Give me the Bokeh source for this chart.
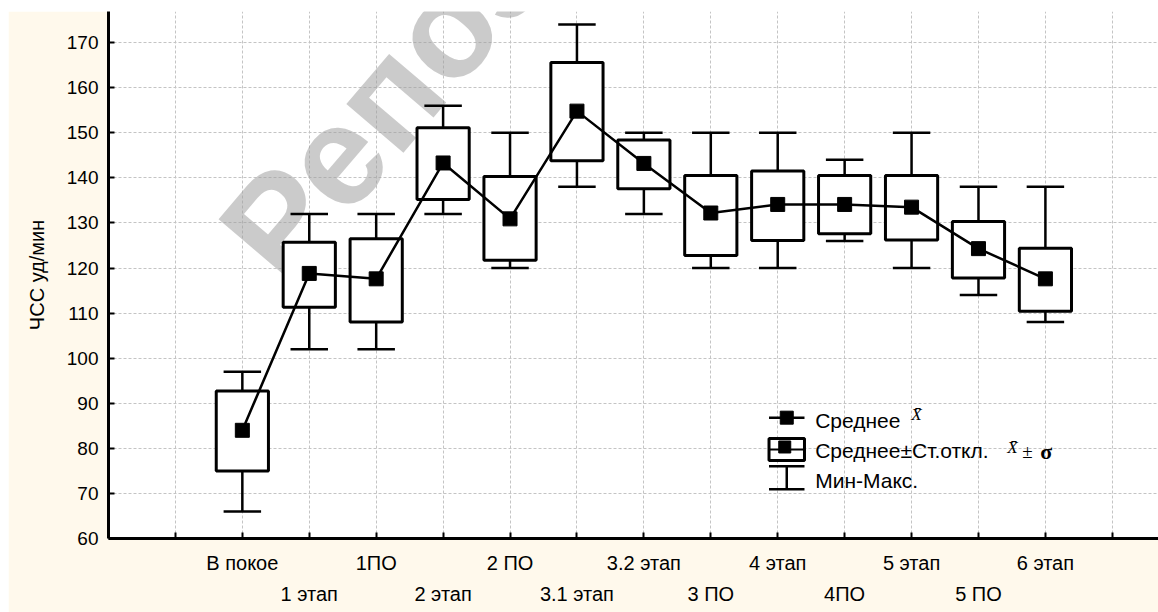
from bokeh.plotting import figure
from bokeh.models import Range1d, FixedTicker, LinearAxis, ColumnDataSource
from bokeh.core.properties import value
from bokeh.embed import file_html
from bokeh.resources import INLINE

# ---------------- data ----------------
categories = ["В покое", "1 этап", "1ПО", "2 этап", "2 ПО", "3.1 этап", "3.2 этап",
              "3 ПО", "4 этап", "4ПО", "5 этап", "5 ПО", "6 этап"]
means    = [84.0, 118.8, 117.6, 143.3, 130.9, 154.8, 143.2, 132.2, 134.1, 134.1, 133.5, 124.3, 117.6]
sd_low   = [75.0, 111.3, 108.0, 135.2, 121.7, 143.8, 137.6, 122.8, 126.1, 127.6, 126.2, 117.8, 110.4]
sd_high  = [92.7, 125.7, 126.5, 151.1, 140.3, 165.6, 148.4, 140.5, 141.5, 140.5, 140.5, 130.3, 124.4]
min_vals = [66, 102, 102, 132, 120, 138, 132, 120, 120, 126, 120, 114, 108]
max_vals = [97, 132, 132, 156, 150, 174, 150, 150, 150, 144, 150, 138, 138]
y_ticks = list(range(60, 171, 10))
y_label = "ЧСС уд/мин"
legend_labels = ["Среднее", "Среднее±Ст.откл.", "Мин-Макс."]
watermark = "Репозиторий"

FONT_NAME = "Liberation Sans"
FONT = value(FONT_NAME)
SERIF = value("Liberation Serif")

pos = list(range(1, len(categories) + 1))
box_w = 0.78
cap_half = 0.28

p = figure(width=1150, height=601,
           x_range=Range1d(-1, 14.69), y_range=Range1d(60, 176.9),
           output_backend="svg", toolbar_location=None,
           min_border_left=100, min_border_right=0, min_border_top=0, min_border_bottom=74,
           background_fill_color="white", border_fill_color="#FFF9EC",
           outline_line_color=None)
p.margin = (11, 0, 0, 8)

# axes
ax = p.xaxis[0]
ax.ticker = FixedTicker(ticks=list(range(0, len(categories) + 2)))
ov1 = {i: "" for i in range(0, len(categories) + 2)}
for i, c in enumerate(categories):
    if (i + 1) % 2 == 1:
        ov1[i + 1] = c
ax.major_label_overrides = ov1
ax.axis_line_width = 3
ax.axis_line_color = "black"
ax.major_tick_in = 6
ax.major_tick_out = 0
ax.major_tick_line_width = 2
ax.minor_tick_line_color = None
ax.major_label_standoff = 13
ax.major_label_text_font = FONT_NAME
ax.major_label_text_font_size = "20px"
ax.major_label_text_color = "black"

ov2 = {}
for i, c in enumerate(categories):
    if (i + 1) % 2 == 0:
        ov2[i + 1] = c
ax2 = LinearAxis(ticker=FixedTicker(ticks=sorted(ov2.keys())),
                 major_label_overrides=ov2,
                 axis_line_color=None, major_tick_line_color=None,
                 minor_tick_line_color=None, major_label_standoff=6,
                 major_tick_in=0, major_tick_out=0,
                 major_label_text_font=FONT_NAME, major_label_text_font_size="20px",
                 major_label_text_color="black")
p.add_layout(ax2, "below")

ay = p.yaxis[0]
ay.ticker = FixedTicker(ticks=y_ticks)
ay.axis_line_width = 3
ay.axis_line_color = "black"
ay.major_tick_in = 6
ay.major_tick_out = 0
ay.major_tick_line_width = 2
ay.minor_tick_line_color = None
ay.major_label_standoff = 10
ay.major_label_text_font = FONT_NAME
ay.major_label_text_font_size = "19px"
ay.major_label_text_color = "black"
ay.axis_label = y_label
ay.axis_label_text_font = FONT_NAME
ay.axis_label_text_font_size = "20px"
ay.axis_label_text_font_style = "normal"
ay.axis_label_text_color = "black"
ay.axis_label_standoff = 16

# grid
for g in (p.xgrid[0], p.ygrid[0]):
    g.grid_line_color = "#c4c4c4"
    g.grid_line_dash = "3 2"
    g.grid_line_width = 1

# watermark
p.text(x=[1.10], y=[122.3], text=[watermark], angle=0.865,
       text_font=FONT, text_font_style="bold", text_font_size="142px",
       text_color="#a0a0a0", text_alpha=0.55,
       text_baseline="alphabetic", text_align="left")

# data
src = ColumnDataSource(dict(
    x=pos, mean=means, lo=sd_low, hi=sd_high, mn=min_vals, mx=max_vals,
    cl=[x - cap_half for x in pos], cr=[x + cap_half for x in pos]))

p.segment(x0="x", y0="hi", x1="x", y1="mx", source=src, line_color="black", line_width=2.5)
p.segment(x0="x", y0="lo", x1="x", y1="mn", source=src, line_color="black", line_width=2.5)
p.segment(x0="cl", y0="mx", x1="cr", y1="mx", source=src, line_color="black", line_width=2.5)
p.segment(x0="cl", y0="mn", x1="cr", y1="mn", source=src, line_color="black", line_width=2.5)
p.vbar(x="x", width=box_w, bottom="lo", top="hi", source=src,
       fill_color="white", line_color="black", line_width=3)
p.line(x="x", y="mean", source=src, line_color="black", line_width=2.5)
p.scatter(x="x", y="mean", source=src, marker="square", size=14,
          fill_color="black", line_color="black")

# legend (drawn manually)
lx0, lx1 = 8.87, 9.40
lxc = (lx0 + lx1) / 2
ltx = 9.56
r1, r2, r3 = 86.8, 79.5, 72.9
p.line(x=[lx0, lx1], y=[r1, r1], line_color="black", line_width=2.5)
p.scatter(x=[lxc], y=[r1], marker="square", size=13, fill_color="black", line_color="black")
p.quad(left=[lx0], right=[lx1], bottom=[77.3], top=[82.2],
       fill_color="white", line_color="black", line_width=3)
p.line(x=[lx0, lx1], y=[79.75, 79.75], line_color="black", line_width=2)
p.scatter(x=[lxc - 0.03], y=[80.3], marker="square", size=12, fill_color="black", line_color="black")
p.line(x=[lx0, lx1], y=[76.0, 76.0], line_color="black", line_width=2.5)
p.line(x=[lx0, lx1], y=[70.9, 70.9], line_color="black", line_width=2.5)
p.line(x=[lxc, lxc], y=[70.9, 76.0], line_color="black", line_width=2.5)

p.text(x=[ltx] * 3, y=[r1 - 0.6, r2, r3], text=legend_labels,
       text_font=FONT, text_font_size="21px", text_color="black",
       text_baseline="middle", text_align="left")
p.text(x=[ltx], y=[r1 + 0.6], x_offset=[96], text=["X\u0304"],
       text_font=SERIF, text_font_style="italic", text_font_size="17px",
       text_color="black", text_baseline="middle", text_align="left")
p.text(x=[ltx], y=[r2 + 0.6], x_offset=[192], text=["X\u0304"],
       text_font=SERIF, text_font_style="italic", text_font_size="17px",
       text_color="black", text_baseline="middle", text_align="left")
p.text(x=[ltx], y=[r2 - 0.2], x_offset=[207], text=["±"],
       text_font=SERIF, text_font_size="19px",
       text_color="black", text_baseline="middle", text_align="left")
p.text(x=[ltx], y=[r2 - 0.3], x_offset=[225], text=["σ"],
       text_font=SERIF, text_font_style="bold", text_font_size="22px",
       text_color="black", text_baseline="middle", text_align="left")

open("out.html", "w").write(file_html(p, INLINE))
